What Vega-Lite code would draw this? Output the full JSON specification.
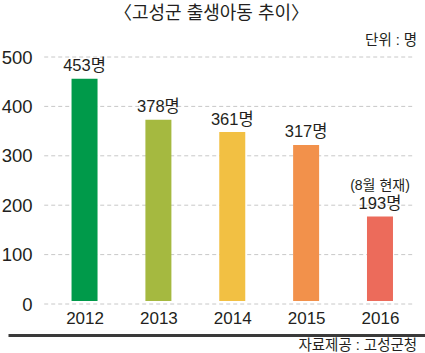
{
  "$schema": "https://vega.github.io/schema/vega-lite/v6.json",
  "width": 417,
  "height": 247,
  "autosize": "none",
  "padding": {"left": 8, "top": 57, "right": 0, "bottom": 49},
  "background": "white",
  "config": {
    "view": {"stroke": null},
    "font": "Liberation Sans, Noto Sans CJK KR, sans-serif"
  },
  "title": {
    "text": "〈고성군 출생아동 추이〉",
    "fontSize": 18,
    "fontWeight": "normal",
    "color": "#231f20",
    "anchor": "middle",
    "baseline": "bottom",
    "dx": -5,
    "offset": -9
  },
  "datasets": {
    "births": [
      {"year": 2012, "births": 453, "barHeight": 456, "label": "453명", "note": ""},
      {"year": 2013, "births": 378, "barHeight": 373, "label": "378명", "note": ""},
      {"year": 2014, "births": 361, "barHeight": 348, "label": "361명", "note": ""},
      {"year": 2015, "births": 317, "barHeight": 322, "label": "317명", "note": ""},
      {"year": 2016, "births": 193, "barHeight": 177, "label": "193명", "note": "(8월 현재)"}
    ],
    "grid": [{"v": 0}, {"v": 100}, {"v": 200}, {"v": 300}, {"v": 400}, {"v": 500}]
  },
  "layer": [
    {
      "data": {"name": "grid"},
      "mark": {"type": "rule", "strokeDash": [4, 3], "color": "#c8c8c8", "strokeWidth": 1},
      "encoding": {
        "y": {
          "field": "v",
          "type": "quantitative",
          "scale": {"domain": [0, 500], "nice": false, "zero": true},
          "axis": {
            "values": [0, 100, 200, 300, 400, 500],
            "grid": false,
            "domain": false,
            "ticks": false,
            "tickSize": 0,
            "labelPadding": -24,
            "labelFontSize": 18.5,
            "labelColor": "#231f20",
            "labelBaseline": "middle",
            "labelOverlap": false,
            "title": "단위 : 명",
            "titleAngle": 0,
            "titleAlign": "right",
            "titleBaseline": "middle",
            "titleX": 408.7,
            "titleY": -17,
            "titleFontSize": 14.5,
            "titleFontWeight": "normal",
            "titleColor": "#231f20"
          }
        },
        "x": {
          "datum": 2011.454,
          "type": "quantitative",
          "scale": {"domain": [2011.0314, 2016.5418], "nice": false, "zero": false},
          "axis": {
            "values": [2012, 2013, 2014, 2015, 2016],
            "format": "d",
            "grid": false,
            "domain": true,
            "domainColor": "#3a3a3a",
            "domainWidth": 3,
            "ticks": false,
            "tickSize": 0,
            "offset": 31,
            "labelPadding": -17,
            "labelBaseline": "middle",
            "labelFontSize": 17,
            "labelColor": "#231f20",
            "labelFlush": false,
            "labelOverlap": false,
            "title": "자료제공 : 고성군청",
            "titleAlign": "right",
            "titleBaseline": "middle",
            "titleX": 408.7,
            "titleY": 10.7,
            "titleFontSize": 14.5,
            "titleFontWeight": "normal",
            "titleColor": "#231f20"
          }
        },
        "x2": {"datum": 2016.436}
      }
    },
    {
      "data": {"name": "births"},
      "mark": {"type": "bar", "width": 26},
      "encoding": {
        "x": {"field": "year", "type": "quantitative", "title": "자료제공 : 고성군청"},
        "y": {"field": "barHeight", "type": "quantitative", "title": "단위 : 명"},
        "y2": {"datum": 6},
        "color": {
          "field": "year",
          "type": "nominal",
          "scale": {
            "domain": [2012, 2013, 2014, 2015, 2016],
            "range": ["#009a4a", "#a5b940", "#f2c043", "#f2914b", "#ec6b5b"]
          },
          "legend": null
        }
      }
    },
    {
      "data": {"name": "births"},
      "mark": {"type": "text", "baseline": "middle", "align": "center", "dy": -12.5, "fontSize": 16.5, "color": "#231f20"},
      "encoding": {
        "x": {"field": "year", "type": "quantitative", "title": "자료제공 : 고성군청"},
        "y": {"field": "barHeight", "type": "quantitative", "title": "단위 : 명"},
        "text": {"field": "label"}
      }
    },
    {
      "data": {"name": "births"},
      "mark": {"type": "text", "baseline": "middle", "align": "center", "dy": -30.5, "fontSize": 14, "color": "#231f20"},
      "encoding": {
        "x": {"field": "year", "type": "quantitative", "title": "자료제공 : 고성군청"},
        "y": {"field": "barHeight", "type": "quantitative", "title": "단위 : 명"},
        "text": {"field": "note"}
      }
    }
  ]
}
